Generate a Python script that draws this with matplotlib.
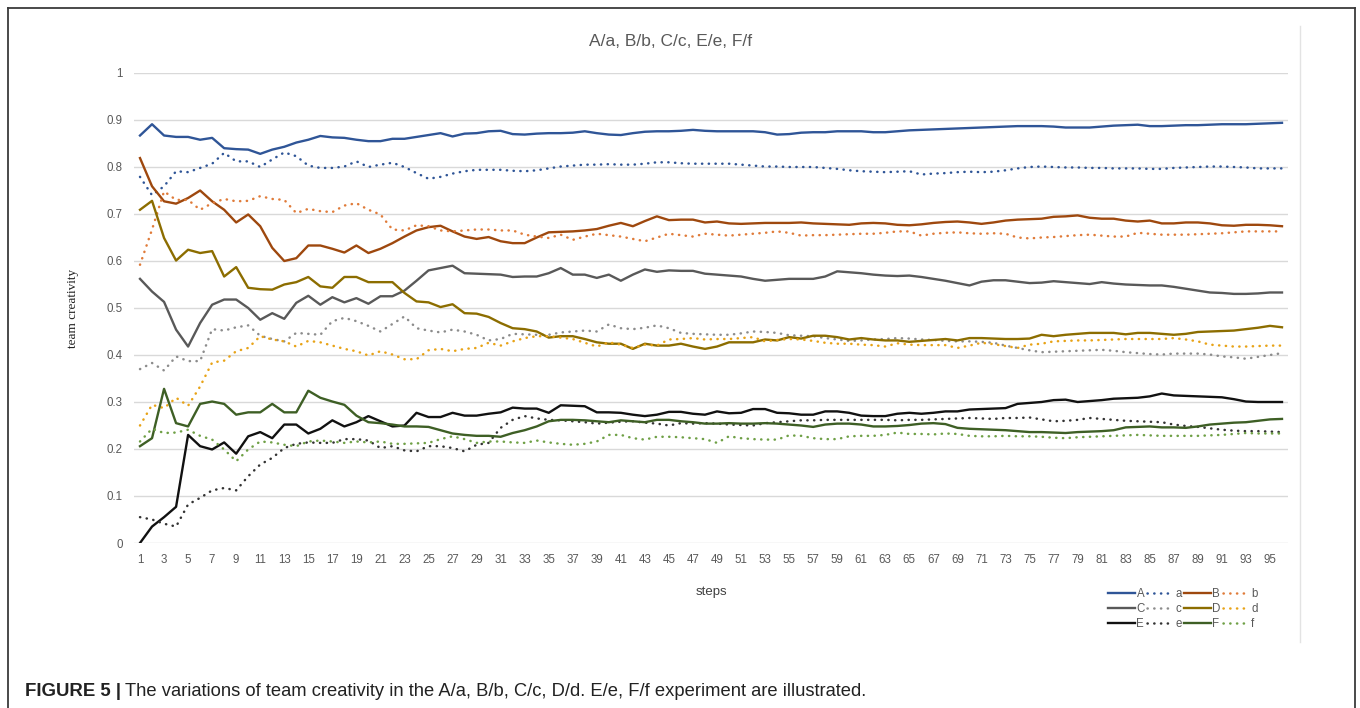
import matplotlib
matplotlib.use("Agg")
import matplotlib.pyplot as plt
from matplotlib.lines import Line2D

plt.rcParams['font.family'] = ['Liberation Sans', 'DejaVu Sans']

steps = list(range(1, 97))
xTickLabels = [str(s) for s in range(1, 97, 2)]
yTicks = [0, 0.1, 0.2, 0.3, 0.4, 0.5, 0.6, 0.7, 0.8, 0.9, 1]
yTickLabels = ["0", "0.1", "0.2", "0.3", "0.4", "0.5", "0.6", "0.7", "0.8", "0.9", "1"]

A = [0.867, 0.891, 0.867, 0.864, 0.864, 0.858, 0.862, 0.840, 0.838, 0.837, 0.828, 0.837, 0.843, 0.852, 0.858, 0.866,
     0.863, 0.862, 0.858, 0.855, 0.855, 0.860, 0.860, 0.864, 0.868, 0.872, 0.865, 0.871, 0.872, 0.876, 0.877, 0.870,
     0.869, 0.871, 0.872, 0.872, 0.873, 0.876, 0.872, 0.869, 0.868, 0.872, 0.875, 0.876, 0.876, 0.877, 0.879, 0.877,
     0.876, 0.876, 0.876, 0.876, 0.874, 0.869, 0.870, 0.873, 0.874, 0.874, 0.876, 0.876, 0.876, 0.874, 0.874, 0.876,
     0.878, 0.879, 0.880, 0.881, 0.882, 0.883, 0.884, 0.885, 0.886, 0.887, 0.887, 0.887, 0.886, 0.884, 0.884, 0.884,
     0.886, 0.888, 0.889, 0.890, 0.887, 0.887, 0.888, 0.889, 0.889, 0.890, 0.891, 0.891, 0.891, 0.892, 0.893, 0.894]
a = [0.779, 0.740, 0.759, 0.791, 0.789, 0.798, 0.807, 0.830, 0.812, 0.812, 0.800, 0.816, 0.831, 0.823, 0.803, 0.798,
     0.798, 0.801, 0.812, 0.800, 0.805, 0.809, 0.800, 0.787, 0.775, 0.779, 0.786, 0.791, 0.794, 0.794, 0.794, 0.792,
     0.791, 0.793, 0.797, 0.801, 0.803, 0.805, 0.805, 0.806, 0.805, 0.805, 0.807, 0.810, 0.810, 0.808, 0.807, 0.807,
     0.807, 0.807, 0.805, 0.803, 0.801, 0.801, 0.800, 0.800, 0.800, 0.798, 0.796, 0.793, 0.791, 0.790, 0.789, 0.790,
     0.791, 0.784, 0.786, 0.787, 0.789, 0.790, 0.789, 0.790, 0.793, 0.797, 0.800, 0.801, 0.800, 0.799, 0.799, 0.798,
     0.798, 0.797, 0.797, 0.797, 0.796, 0.796, 0.798, 0.799, 0.800, 0.801, 0.801, 0.800, 0.799, 0.797, 0.797, 0.797]
B = [0.819, 0.759, 0.727, 0.722, 0.734, 0.750, 0.727, 0.709, 0.682, 0.699, 0.674, 0.628, 0.600, 0.606, 0.633, 0.633,
     0.626, 0.618, 0.633, 0.617, 0.626, 0.638, 0.652, 0.665, 0.672, 0.675, 0.663, 0.652, 0.647, 0.651, 0.642, 0.638,
     0.638, 0.650, 0.661, 0.662, 0.663, 0.665, 0.668, 0.675, 0.681, 0.674, 0.685, 0.695, 0.687, 0.688, 0.688, 0.682,
     0.684, 0.680, 0.679, 0.680, 0.681, 0.681, 0.681, 0.682, 0.680, 0.679, 0.678, 0.677, 0.680, 0.681, 0.680, 0.677,
     0.676, 0.678, 0.681, 0.683, 0.684, 0.682, 0.679, 0.682, 0.686, 0.688, 0.689, 0.690, 0.694, 0.695, 0.697, 0.692,
     0.690, 0.690, 0.686, 0.684, 0.686, 0.680, 0.680, 0.682, 0.682, 0.680, 0.676, 0.675, 0.677, 0.677, 0.676, 0.674]
b = [0.592, 0.667, 0.748, 0.730, 0.730, 0.709, 0.723, 0.732, 0.727, 0.728, 0.738, 0.732, 0.730, 0.702, 0.711, 0.706,
     0.704, 0.718, 0.723, 0.709, 0.699, 0.667, 0.665, 0.676, 0.674, 0.665, 0.663, 0.665, 0.667, 0.667, 0.665, 0.665,
     0.656, 0.652, 0.649, 0.656, 0.645, 0.652, 0.658, 0.655, 0.652, 0.647, 0.642, 0.650, 0.658, 0.655, 0.652, 0.658,
     0.656, 0.654, 0.656, 0.658, 0.660, 0.663, 0.660, 0.654, 0.655, 0.655, 0.656, 0.657, 0.658, 0.658, 0.660, 0.663,
     0.663, 0.654, 0.658, 0.660, 0.661, 0.659, 0.658, 0.659, 0.658, 0.650, 0.648, 0.650, 0.651, 0.653, 0.655, 0.656,
     0.654, 0.652, 0.652, 0.660, 0.658, 0.656, 0.656, 0.656, 0.657, 0.658, 0.659, 0.661, 0.663, 0.663, 0.663, 0.663]
C = [0.562, 0.535, 0.513, 0.454, 0.418, 0.468, 0.507, 0.518, 0.518, 0.500, 0.475, 0.489, 0.477, 0.511, 0.526, 0.507,
     0.523, 0.512, 0.521, 0.509, 0.525, 0.525, 0.537, 0.558, 0.580, 0.585, 0.590, 0.574, 0.573, 0.572, 0.571, 0.566,
     0.567, 0.567, 0.574, 0.585, 0.571, 0.571, 0.564, 0.571, 0.558, 0.571, 0.582, 0.577, 0.580, 0.579, 0.579, 0.573,
     0.571, 0.569, 0.567, 0.562, 0.558, 0.560, 0.562, 0.562, 0.562, 0.567, 0.578, 0.576, 0.574, 0.571, 0.569, 0.568,
     0.569, 0.566, 0.562, 0.558, 0.553, 0.548, 0.556, 0.559, 0.559, 0.556, 0.553, 0.554, 0.557, 0.555, 0.553, 0.551,
     0.555, 0.552, 0.550, 0.549, 0.548, 0.548, 0.545, 0.541, 0.537, 0.533, 0.532, 0.530, 0.530, 0.531, 0.533, 0.533]
c = [0.370, 0.383, 0.367, 0.397, 0.387, 0.387, 0.455, 0.452, 0.459, 0.463, 0.441, 0.434, 0.429, 0.447, 0.445, 0.443,
     0.472, 0.479, 0.472, 0.462, 0.450, 0.466, 0.482, 0.457, 0.452, 0.448, 0.454, 0.450, 0.443, 0.431, 0.434, 0.445,
     0.444, 0.443, 0.443, 0.448, 0.450, 0.452, 0.450, 0.465, 0.457, 0.455, 0.458, 0.463, 0.457, 0.447, 0.445, 0.444,
     0.443, 0.443, 0.446, 0.450, 0.449, 0.447, 0.442, 0.441, 0.440, 0.436, 0.433, 0.430, 0.431, 0.433, 0.434, 0.436,
     0.435, 0.433, 0.432, 0.430, 0.429, 0.429, 0.428, 0.426, 0.420, 0.415, 0.410, 0.406, 0.407, 0.408, 0.409, 0.410,
     0.411, 0.409, 0.406, 0.404, 0.402, 0.401, 0.403, 0.403, 0.403, 0.401, 0.397, 0.395, 0.392, 0.396, 0.400, 0.404]
D = [0.709, 0.728, 0.649, 0.601, 0.624, 0.617, 0.621, 0.567, 0.587, 0.543, 0.540, 0.539, 0.550, 0.555, 0.566, 0.546,
     0.543, 0.566, 0.566, 0.555, 0.555, 0.555, 0.532, 0.514, 0.512, 0.502, 0.508, 0.489, 0.488, 0.481, 0.468, 0.457,
     0.455, 0.450, 0.437, 0.440, 0.440, 0.434, 0.427, 0.424, 0.424, 0.413, 0.424, 0.420, 0.420, 0.424, 0.418, 0.413,
     0.418, 0.427, 0.427, 0.427, 0.433, 0.431, 0.438, 0.435, 0.441, 0.441, 0.438, 0.433, 0.436, 0.433, 0.431, 0.431,
     0.428, 0.430, 0.432, 0.434, 0.431, 0.436, 0.436, 0.435, 0.434, 0.434, 0.435, 0.443, 0.440, 0.443, 0.445, 0.447,
     0.447, 0.447, 0.444, 0.447, 0.447, 0.445, 0.443, 0.445, 0.449, 0.450, 0.451, 0.452, 0.455, 0.458, 0.462, 0.459]
d = [0.250, 0.294, 0.287, 0.309, 0.292, 0.333, 0.384, 0.388, 0.408, 0.415, 0.440, 0.433, 0.429, 0.418, 0.430, 0.427,
     0.420, 0.413, 0.408, 0.399, 0.408, 0.401, 0.391, 0.391, 0.410, 0.413, 0.408, 0.413, 0.415, 0.426, 0.420, 0.429,
     0.436, 0.440, 0.440, 0.437, 0.434, 0.426, 0.418, 0.427, 0.422, 0.415, 0.422, 0.420, 0.433, 0.434, 0.436, 0.433,
     0.434, 0.434, 0.436, 0.438, 0.429, 0.432, 0.434, 0.433, 0.430, 0.426, 0.424, 0.424, 0.422, 0.421, 0.418, 0.425,
     0.422, 0.421, 0.421, 0.421, 0.415, 0.420, 0.426, 0.423, 0.419, 0.415, 0.422, 0.424, 0.429, 0.430, 0.431, 0.431,
     0.432, 0.433, 0.434, 0.434, 0.434, 0.434, 0.436, 0.433, 0.429, 0.422, 0.420, 0.418, 0.418, 0.419, 0.420, 0.420]
E = [0.000, 0.035, 0.055, 0.077, 0.230, 0.206, 0.199, 0.214, 0.190, 0.227, 0.236, 0.223, 0.252, 0.252, 0.233, 0.243,
     0.261, 0.248, 0.257, 0.270, 0.259, 0.248, 0.250, 0.277, 0.268, 0.268, 0.277, 0.271, 0.271, 0.275, 0.278, 0.288,
     0.286, 0.286, 0.277, 0.293, 0.292, 0.291, 0.278, 0.278, 0.277, 0.273, 0.270, 0.273, 0.279, 0.279, 0.275, 0.273,
     0.280, 0.276, 0.277, 0.285, 0.285, 0.277, 0.276, 0.273, 0.273, 0.280, 0.280, 0.277, 0.271, 0.270, 0.270, 0.275,
     0.277, 0.275, 0.277, 0.280, 0.280, 0.284, 0.285, 0.286, 0.287, 0.296, 0.298, 0.300, 0.304, 0.305, 0.300, 0.302,
     0.304, 0.307, 0.308, 0.309, 0.312, 0.318, 0.314, 0.313, 0.312, 0.311, 0.310, 0.306, 0.301, 0.300, 0.300, 0.300]
e = [0.055, 0.050, 0.041, 0.035, 0.082, 0.096, 0.112, 0.117, 0.112, 0.142, 0.167, 0.181, 0.202, 0.211, 0.214, 0.213,
     0.213, 0.221, 0.221, 0.218, 0.202, 0.206, 0.197, 0.195, 0.206, 0.206, 0.202, 0.195, 0.209, 0.213, 0.245, 0.262,
     0.270, 0.265, 0.262, 0.261, 0.259, 0.257, 0.254, 0.256, 0.258, 0.259, 0.256, 0.254, 0.250, 0.255, 0.254, 0.255,
     0.254, 0.252, 0.251, 0.250, 0.255, 0.257, 0.259, 0.261, 0.261, 0.262, 0.262, 0.262, 0.262, 0.262, 0.262, 0.261,
     0.262, 0.262, 0.263, 0.264, 0.265, 0.266, 0.265, 0.264, 0.266, 0.266, 0.267, 0.263, 0.259, 0.260, 0.262, 0.266,
     0.264, 0.262, 0.260, 0.259, 0.258, 0.257, 0.252, 0.249, 0.247, 0.244, 0.241, 0.239, 0.238, 0.238, 0.237, 0.236]
F = [0.206, 0.223, 0.328, 0.255, 0.248, 0.296, 0.301, 0.296, 0.273, 0.278, 0.278, 0.296, 0.278, 0.278, 0.324, 0.309,
     0.301, 0.294, 0.271, 0.257, 0.255, 0.252, 0.248, 0.248, 0.247, 0.240, 0.233, 0.230, 0.228, 0.228, 0.226, 0.234,
     0.240, 0.248, 0.259, 0.262, 0.262, 0.261, 0.259, 0.257, 0.261, 0.259, 0.257, 0.262, 0.262, 0.259, 0.257, 0.254,
     0.254, 0.255, 0.254, 0.254, 0.255, 0.254, 0.252, 0.250, 0.247, 0.252, 0.254, 0.254, 0.252, 0.248, 0.248, 0.249,
     0.251, 0.254, 0.255, 0.253, 0.245, 0.243, 0.242, 0.241, 0.240, 0.238, 0.236, 0.236, 0.235, 0.234, 0.236, 0.237,
     0.238, 0.240, 0.246, 0.247, 0.248, 0.246, 0.246, 0.245, 0.248, 0.252, 0.254, 0.256, 0.257, 0.260, 0.263, 0.264]
f = [0.216, 0.243, 0.234, 0.235, 0.241, 0.228, 0.220, 0.199, 0.174, 0.199, 0.216, 0.214, 0.209, 0.206, 0.216, 0.218,
     0.216, 0.213, 0.216, 0.214, 0.216, 0.211, 0.211, 0.212, 0.213, 0.221, 0.227, 0.221, 0.213, 0.216, 0.216, 0.214,
     0.213, 0.218, 0.214, 0.211, 0.209, 0.211, 0.216, 0.230, 0.230, 0.223, 0.220, 0.226, 0.226, 0.225, 0.223, 0.221,
     0.213, 0.227, 0.223, 0.221, 0.220, 0.220, 0.229, 0.228, 0.223, 0.221, 0.221, 0.227, 0.228, 0.228, 0.230, 0.235,
     0.232, 0.232, 0.231, 0.233, 0.232, 0.228, 0.227, 0.227, 0.228, 0.227, 0.227, 0.226, 0.224, 0.223, 0.225, 0.226,
     0.227, 0.228, 0.229, 0.230, 0.229, 0.228, 0.228, 0.228, 0.228, 0.229, 0.230, 0.232, 0.234, 0.233, 0.233, 0.233]

seriesNames = ["A", "a", "B", "b", "C", "c", "D", "d", "E", "e", "F", "f"]
seriesValues = [A, a, B, b, C, c, D, d, E, e, F, f]
seriesColors = ["#2F5597", "#2F5597", "#9E480E", "#E07B39", "#595959", "#8C8C8C",
                "#8C6D00", "#E8A317", "#111111", "#333333", "#3E5F25", "#6FA046"]

titleText = "A/a, B/b, C/c, E/e, F/f"
captionBold = "FIGURE 5 |"
captionText = "The variations of team creativity in the A/a, B/b, C/c, D/d. E/e, F/f experiment are illustrated."


def drawSeries(ax):
    handles = []
    for name, values, color in zip(seriesNames, seriesValues, seriesColors):
        if name.isupper():
            line, = ax.plot(steps, values, color=color, lw=1.7, solid_joinstyle='round', label=name)
        else:
            line, = ax.plot(steps, values, color=color, lw=1.8, linestyle=(0, (0.1, 2.6)),
                            dash_capstyle='round', label=name)
        handles.append(line)
    return handles


def styleAxes(ax):
    ax.set_xlim(0.5, 96.5)
    ax.set_ylim(0, 1)
    ax.set_xticks(range(1, 97, 2))
    ax.set_xticklabels(xTickLabels)
    ax.set_yticks(yTicks)
    ax.set_yticklabels(yTickLabels)
    ax.tick_params(length=0, labelsize=8.3, labelcolor="#595959", pad=8)
    ax.grid(axis='y', color="#D9D9D9", lw=1)
    ax.set_axisbelow(True)
    for spine in ax.spines.values():
        spine.set_visible(False)
    ax.set_xlabel("steps", fontsize=9.5, color="#404040", labelpad=14)
    ax.set_ylabel("team creativity", fontsize=9.5, family=['Liberation Serif'], color="#222222", labelpad=20)


def main():
    fig = plt.figure(figsize=(13.6, 7.08), dpi=100)
    ax = fig.add_axes([134 / 1360, 1 - 543 / 708, (1288 - 134) / 1360, (543 - 73) / 708])
    handles = drawSeries(ax)
    styleAxes(ax)

    fig.text(671 / 1360, 1 - 41 / 708, titleText, ha='center', va='center', fontsize=12.5, color="#595959")

    # legend fills column by column, so reorder to get A a B b across each row
    order = [0, 4, 8, 1, 5, 9, 2, 6, 10, 3, 7, 11]
    fig.legend([handles[i] for i in order], [seriesNames[i] for i in order], ncol=4,
               loc='center', bbox_to_anchor=(1183 / 1360, 1 - 609 / 708), frameon=False,
               fontsize=8.3, handlelength=2.3, handletextpad=0.15, columnspacing=0.2,
               labelspacing=0.3, labelcolor="#595959")

    # outer frame and the chart border on the right
    frameColor = "#3A3A3A"
    fig.add_artist(Line2D([8 / 1360, 8 / 1360], [0, 1 - 8 / 708], color=frameColor, lw=1.3))
    fig.add_artist(Line2D([8 / 1360, 1355 / 1360], [1 - 8 / 708, 1 - 8 / 708], color=frameColor, lw=1.3))
    fig.add_artist(Line2D([1355 / 1360, 1355 / 1360], [0, 1 - 8 / 708], color=frameColor, lw=1.3))
    fig.add_artist(Line2D([1300 / 1360, 1300 / 1360], [1 - 642 / 708, 1 - 26 / 708], color="#E3E3E3", lw=1))

    bold = fig.text(25 / 1360, 1 - 691 / 708, captionBold, ha='left', va='center', fontsize=13.4,
                    fontweight='bold', color="#222222")
    fig.canvas.draw()
    bb = bold.get_window_extent()
    fig.text((bb.x1 + 4) / 1360, 1 - 691 / 708, captionText, ha='left', va='center', fontsize=13.2,
             color="#222222")

    fig.savefig("out.png", dpi=100)


if __name__ == "__main__":
    main()
